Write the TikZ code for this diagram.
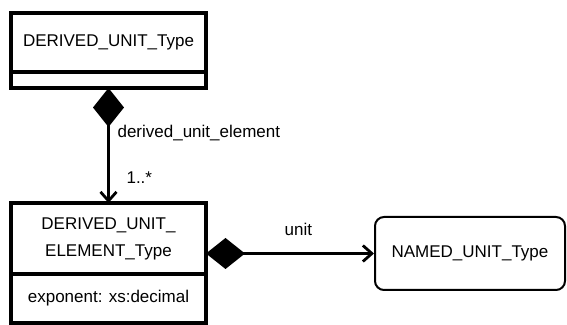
\documentclass[tikz,border=0pt]{standalone}
\usepackage{fontspec}
\newfontfamily\umlfont{Liberation Sans}
\usetikzlibrary{
  arrows.meta,
  positioning
}

\begin{document}
\begin{tikzpicture}[
      x=0.5pt, y=-0.5pt,
      cls/.style={
        rectangle, draw=black, line width=1.6pt, outer sep=0pt,
        minimum width=97.5pt, inner sep=0pt, fill=white,
        font=\umlfont\fontsize{8.5}{13.5}\selectfont, align=center
      },
      named/.style={
        rectangle, rounded corners=4.5pt, draw=black, line width=1pt,
        minimum width=95pt, minimum height=36.5pt,
        font=\umlfont\fontsize{8.5}{10}\selectfont, align=center
      },
      comp/.style={
        {Diamond[length=19.5pt, width=15.5pt]}-{Straight Barb[length=4.5pt, width=8pt, line width=1.4pt]},
        line width=1.4pt
      },
      lbl/.style={font=\umlfont\fontsize{8.5}{10}\selectfont}
    ]
      \useasboundingbox (0,0) rectangle (567,325);

      % Classes
      \node[cls, minimum height=29.5pt] (dut) at (108.5,42.5) {DERIVED\_UNIT\_Type};
      \node[cls, minimum height=8pt, below=0pt of dut] (dutattr) {};

      \node[cls, minimum height=35.5pt, below=57.5pt of dutattr] (elem) {DERIVED\_UNIT\_\\ELEMENT\_Type};
      \node[cls, minimum height=24.5pt, below=0pt of elem] (elemattr) {exponent: xs:decimal};

      \node[named] (nut) at (470,253.5) {NAMED\_UNIT\_Type};

      % Associations
      \draw[comp] (dutattr.south) -- (elem.north)
        node[lbl, pos=0.39, right=0.5pt] {derived\_unit\_element}
        node[lbl, pos=0.78, right=5pt] {1..*};
      \draw[comp] (elem.east |- nut.west) -- (nut.west)
        node[lbl, pos=0.55, above=5pt] {unit};
    \end{tikzpicture}
\end{document}
